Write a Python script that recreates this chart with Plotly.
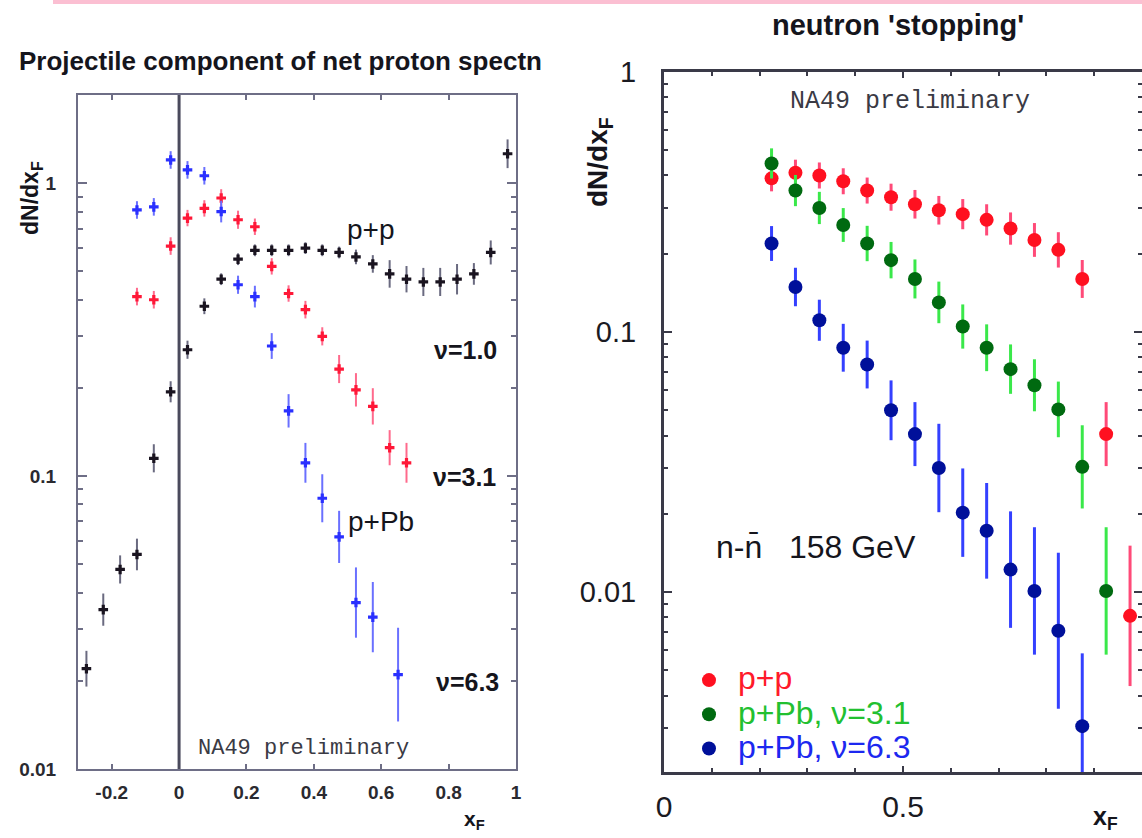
import plotly.graph_objects as go

# ---------------- data: left panel (net proton, projectile component) ----------------
pp_x = [-0.275, -0.225, -0.175, -0.125, -0.075, -0.025, 0.025, 0.075, 0.125, 0.175, 0.225, 0.275, 0.325,
        0.375, 0.425, 0.475, 0.525, 0.575, 0.625, 0.675, 0.725, 0.775, 0.825, 0.875, 0.925, 0.975]
pp_y = [0.022, 0.035, 0.048, 0.054, 0.115, 0.194, 0.27, 0.38, 0.47, 0.55, 0.59, 0.59, 0.59,
        0.60, 0.59, 0.58, 0.56, 0.53, 0.49, 0.47, 0.46, 0.46, 0.47, 0.49, 0.58, 1.26]
pp_e = [0.061, 0.055, 0.048, 0.054, 0.048, 0.036, 0.031, 0.027, 0.02, 0.02, 0.02, 0.02, 0.02,
        0.02, 0.02, 0.02, 0.025, 0.03, 0.047, 0.045, 0.048, 0.048, 0.052, 0.037, 0.041, 0.049]

pb31_x = [-0.125, -0.075, -0.025, 0.025, 0.075, 0.125, 0.175, 0.225, 0.275, 0.325, 0.375, 0.425,
          0.475, 0.525, 0.575, 0.625, 0.675]
pb31_y = [0.41, 0.40, 0.61, 0.76, 0.82, 0.89, 0.75, 0.71, 0.52, 0.42, 0.37, 0.30,
          0.232, 0.197, 0.173, 0.125, 0.111]
pb31_e = [0.03, 0.03, 0.03, 0.028, 0.028, 0.03, 0.031, 0.028, 0.028, 0.028, 0.03, 0.031,
          0.048, 0.057, 0.062, 0.06, 0.068]

pb63_x = [-0.125, -0.075, -0.025, 0.025, 0.075, 0.125, 0.175, 0.225, 0.275, 0.325, 0.375, 0.425,
          0.475, 0.525, 0.575, 0.65]
pb63_y = [0.81, 0.83, 1.20, 1.11, 1.06, 0.80, 0.45, 0.41, 0.278, 0.167, 0.111, 0.084,
          0.062, 0.037, 0.033, 0.021]
pb63_e = [0.03, 0.03, 0.03, 0.03, 0.03, 0.037, 0.031, 0.037, 0.044, 0.057, 0.068, 0.082,
          0.089, 0.12, 0.12, 0.16]

# ---------------- data: right panel (neutron 'stopping') ----------------
n_pp_x = [0.225, 0.275, 0.325, 0.375, 0.425, 0.475, 0.525, 0.575, 0.625, 0.675, 0.725, 0.775,
          0.825, 0.875, 0.925, 0.975]
n_pp_y = [0.39, 0.41, 0.40, 0.38, 0.35, 0.33, 0.31, 0.294, 0.284, 0.27, 0.25, 0.226,
          0.207, 0.16, 0.0405, 0.0081]
n_pp_e = [0.05, 0.05, 0.05, 0.05, 0.05, 0.052, 0.055, 0.055, 0.058, 0.06, 0.062, 0.065,
          0.068, 0.073, 0.123, 0.27]

n_31_x = [0.225, 0.275, 0.325, 0.375, 0.425, 0.475, 0.525, 0.575, 0.625, 0.675, 0.725, 0.775,
          0.825, 0.875, 0.925]
n_31_y = [0.445, 0.35, 0.30, 0.258, 0.219, 0.189, 0.16, 0.13, 0.105, 0.087, 0.072, 0.0624,
          0.0504, 0.0303, 0.0101]
n_31_e = [0.058, 0.06, 0.062, 0.065, 0.068, 0.07, 0.075, 0.08, 0.085, 0.09, 0.095, 0.1,
          0.107, 0.16, 0.245]

n_63_x = [0.225, 0.275, 0.325, 0.375, 0.425, 0.475, 0.525, 0.575, 0.625, 0.675, 0.725, 0.775,
          0.825, 0.875]
n_63_y = [0.219, 0.149, 0.111, 0.087, 0.075, 0.050, 0.0405, 0.030, 0.0202, 0.0172, 0.0122, 0.0101,
          0.0071, 0.00305]
n_63_e = [0.067, 0.074, 0.079, 0.092, 0.092, 0.115, 0.123, 0.17, 0.17, 0.184, 0.224, 0.245,
          0.30, 0.28]

series_names = ["p+p", "p+Pb, ν=3.1", "p+Pb, ν=6.3"]

left_xticks = [-0.2, 0, 0.2, 0.4, 0.6, 0.8, 1]
left_xlabels = ["-0.2", "0", "0.2", "0.4", "0.6", "0.8", "1"]
log_ticks = [0.01, 0.1, 1]
log_labels = ["0.01", "0.1", "1"]
right_xticks = [0, 0.5, 1]
right_xlabels = ["0", "0.5", "1"]

FONT = "Liberation Sans, Arial, sans-serif"
MONO = "Liberation Mono, DejaVu Sans Mono, monospace"


def log_err(y, e):
    up = [v * (10 ** d - 1) for v, d in zip(y, e)]
    dn = [v * (1 - 10 ** (-d)) for v, d in zip(y, e)]
    return up, dn


def minor_logs(lo, hi):
    out = []
    for k in range(lo, hi):
        for m in range(2, 10):
            out.append(m * 10 ** k)
    return out


fig = go.Figure()


def left_trace(x, y, e, mcol, ecol):
    up, dn = log_err(y, e)
    fig.add_trace(go.Scatter(
        x=x, y=y, mode="markers", xaxis="x", yaxis="y", showlegend=False,
        marker=dict(symbol="cross", size=8, color=mcol, line=dict(width=0)),
        error_y=dict(type="data", array=up, arrayminus=dn, symmetric=False,
                     color=ecol, thickness=2, width=0),
    ))


left_trace(pp_x, pp_y, pp_e, "#1a1420", "#6a6a80")
left_trace(pb31_x, pb31_y, pb31_e, "#ff1838", "#ff6a8c")
left_trace(pb63_x, pb63_y, pb63_e, "#2a30ff", "#6a70ff")


def right_trace(x, y, e, mcol, ecol, name, tcol):
    up, dn = log_err(y, e)
    fig.add_trace(go.Scatter(
        x=x, y=y, mode="markers", xaxis="x2", yaxis="y2",
        name="<span style='color:%s;font-size:32px'>\u00a0%s</span>" % (tcol, name),
        showlegend=True,
        marker=dict(symbol="circle", size=14, color=mcol, line=dict(width=0)),
        error_y=dict(type="data", array=up, arrayminus=dn, symmetric=False,
                     color=ecol, thickness=3, width=0),
    ))


right_trace(n_pp_x, n_pp_y, n_pp_e, "#ff1020", "#ff4a78", series_names[0], "#ff1a2a")
right_trace(n_31_x, n_31_y, n_31_e, "#006a10", "#3ae84a", series_names[1], "#22c030")
right_trace(n_63_x, n_63_y, n_63_e, "#00109a", "#3440ff", series_names[2], "#1c28f0")

W, H = 1142, 838
axis_col = "#6e6e86"
dark_col = "#3a3a48"

fig.update_layout(
    width=W, height=H,
    margin=dict(l=0, r=0, t=0, b=0, autoexpand=False),
    paper_bgcolor="white", plot_bgcolor="white",
    font=dict(family=FONT, color="#1a1a22"),
    xaxis=dict(domain=[78 / W, 516 / W], range=[-0.3, 1.0], anchor="y", automargin=False,
               showgrid=False, zeroline=False, showline=True, linecolor=axis_col, linewidth=2,
               mirror="ticks", ticks="inside", ticklen=5, tickcolor=axis_col, tickwidth=2,
               tickvals=left_xticks, ticktext=left_xlabels,
               tickfont=dict(size=19, weight="bold", color="#2a2a30"), ticklabelstandoff=5),
    yaxis=dict(domain=[(H - 769) / H, (H - 95) / H], type="log", range=[-2, 0.301], anchor="x",
               automargin=False,
               showgrid=False, zeroline=False, showline=True, linecolor=axis_col, linewidth=2,
               mirror="ticks", ticks="inside", ticklen=9, tickcolor=axis_col, tickwidth=2,
               tickvals=log_ticks, ticktext=log_labels,
               tickfont=dict(size=19, weight="bold", color="#2a2a30"), ticklabelstandoff=16,
               minor=dict(tickvals=minor_logs(-2, 1), ticks="inside", ticklen=5,
                          tickcolor=axis_col, tickwidth=2, showgrid=False)),
    xaxis2=dict(domain=[664 / W, 1.0], range=[0, 1.0], anchor="y2", automargin=False,
                showgrid=False, zeroline=False, showline=True, linecolor=dark_col, linewidth=3,
                mirror="ticks", ticks="inside", ticklen=6, tickcolor=dark_col, tickwidth=2,
                tickvals=right_xticks, ticktext=right_xlabels,
                tickfont=dict(size=30, color="#1a1a22"), ticklabelstandoff=6,
                minor=dict(dtick=0.1, ticks="inside", ticklen=4, tickcolor=dark_col,
                           tickwidth=2, showgrid=False)),
    yaxis2=dict(domain=[(H - 772) / H, (H - 72) / H], type="log", range=[-2.692, 0], anchor="x2",
                automargin=False,
                showgrid=False, zeroline=False, showline=True, linecolor=dark_col, linewidth=3,
                mirror="ticks", ticks="inside", ticklen=8, tickcolor=dark_col, tickwidth=2,
                tickvals=log_ticks, ticktext=log_labels,
                tickfont=dict(size=29, color="#1a1a22"), ticklabelstandoff=19,
                minor=dict(tickvals=minor_logs(-3, 0), ticks="inside", ticklen=4,
                           tickcolor=dark_col, tickwidth=2, showgrid=False)),
    legend=dict(x=689 / W, y=(H - 658) / H, xanchor="left", yanchor="top",
                bgcolor="rgba(0,0,0,0)", font=dict(size=24, family=FONT),
                tracegroupgap=0, itemsizing="trace"),
    showlegend=True,
)

# vertical line at xF = 0 (left panel)
fig.add_shape(type="line", xref="x", yref="y domain", x0=0, x1=0, y0=0, y1=1,
              line=dict(color="#4a4a5c", width=3))
# decorative pink strip at top of slide
fig.add_shape(type="rect", xref="paper", yref="paper", x0=53 / W, x1=1, y0=1 - 4 / H, y1=1,
              line=dict(width=0), fillcolor="rgba(250,170,195,0.75)")


def ann(x, y, text, size, **kw):
    fig.add_annotation(xref="paper", yref="paper", x=x / W, y=1 - y / H, text=text,
                       showarrow=False, font=dict(size=size, family=kw.pop("family", FONT),
                                                  color=kw.pop("color", "#15151c"),
                                                  weight=kw.pop("weight", "normal")),
                       xanchor=kw.pop("xanchor", "center"), yanchor="middle", **kw)


# titles
ann(280, 61, "Projectile component of net proton spectn", 26, weight="bold")
ann(898, 25, "neutron 'stopping'", 29, weight="bold")

# axis titles
ann(31, 198, "dN/dx<sub>F</sub>", 23, weight="bold", textangle=-90)
ann(599, 162, "dN/dx<sub>F</sub>", 28, weight="bold", textangle=-90)
ann(474, 820, "x<sub>F</sub>", 21, weight="bold")
ann(1105, 818, "x<sub>F</sub>", 25, weight="bold")

# left panel labels
ann(371, 229, "p+p", 28)
ann(381, 521, "p+Pb", 28)
ann(465, 350, "ν=1.0", 25, weight="bold")
ann(464, 477, "ν=3.1", 25, weight="bold")
ann(467, 682, "ν=6.3", 25, weight="bold")
ann(303, 748, "NA49 preliminary", 22, family=MONO, color="#3a3a44")

# right panel labels
ann(910, 101, "NA49 preliminary", 25, family=MONO, color="#3a3a44")
ann(816, 547, "n-n\u0304   158 GeV", 32)

fig.write_html("out.html")
